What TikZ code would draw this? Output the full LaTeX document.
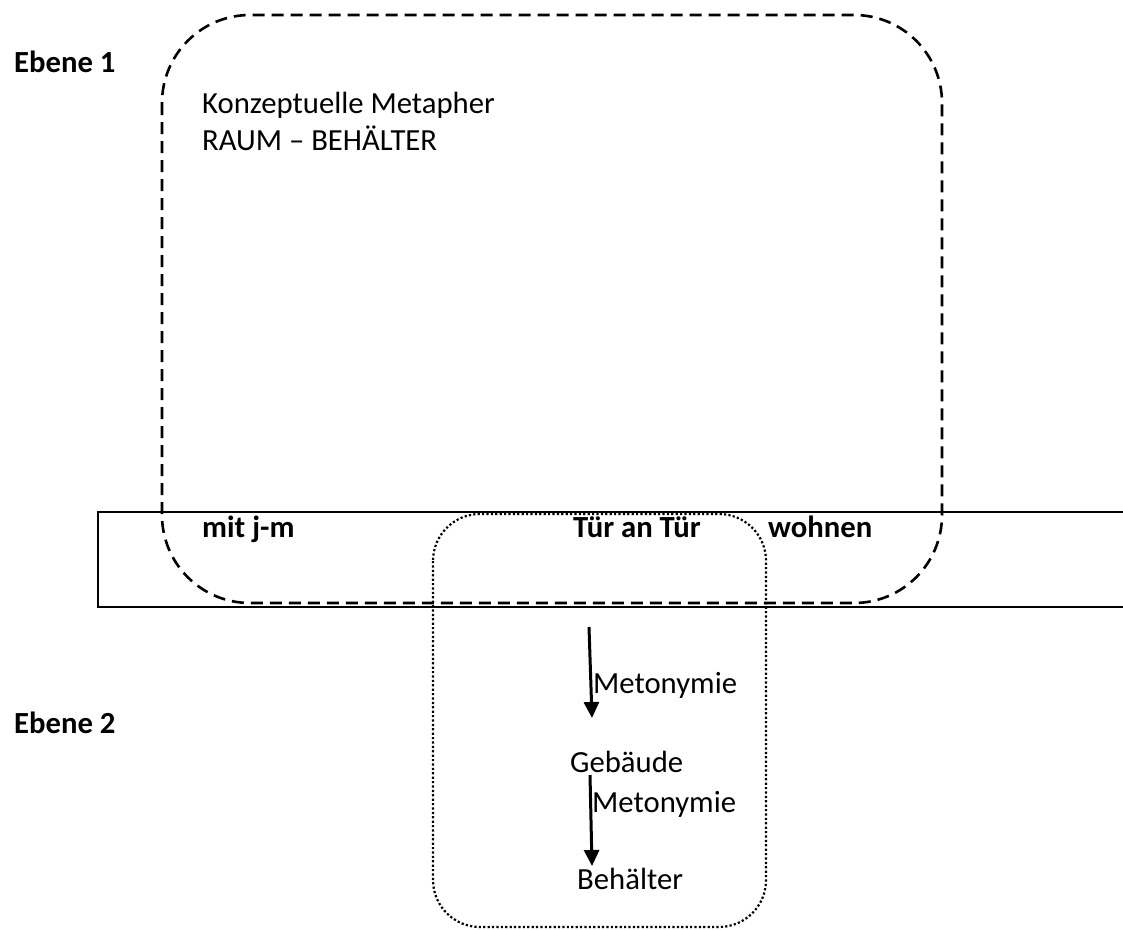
\documentclass[tikz,border=0pt]{standalone}
\usepackage{fontspec}
\setmainfont{Carlito}
\usetikzlibrary{arrows.meta}
\tikzset{
  lbl/.style={anchor=base west, inner sep=0pt, font=\fontsize{30.7}{37}\selectfont},
  blbl/.style={lbl, font=\fontsize{30.7}{37}\selectfont\bfseries},
  band/.style={line width=2pt, black},
  metabox/.style={line width=2.6pt, dash pattern=on 12pt off 7pt, rounded corners=88pt},
  metobox/.style={line width=2.2pt, dash pattern=on 2.2pt off 2.2pt, rounded corners=47pt},
  arr/.style={line width=3pt, -{Triangle[width=15pt,length=16pt]}}
}
\begin{document}
\begin{tikzpicture}[x=1pt,y=-1pt]
\useasboundingbox (0,0) rectangle (1123,929);
% band
\draw[band] (1123,512) -- (98,512) -- (98,607) -- (1123,607);
% boxes
\draw[metabox] (162,15) rectangle (942,603);
\draw[metobox] (433,514) rectangle (766,927);
% labels
\node[blbl] (e1) at (14,72) {Ebene 1};
\node[blbl] (e2) at (14,733) {Ebene 2};
\node[lbl] (k1) at (202,113) {Konzeptuelle Metapher};
\node[lbl] (k2) at (202,150) {RAUM – BEHÄLTER};
\node[blbl] (mit) at (202,537) {mit j-m};
\node[blbl] (tuer) at (573,537) {Tür an Tür};
\node[blbl] (wohn) at (768,537) {wohnen};
\node[lbl] (m1) at (593,693) {Metonymie};
\node[lbl] (geb) at (570,772) {Gebäude};
\node[lbl] (m2) at (592,812) {Metonymie};
\node[lbl] (beh) at (577,889) {Behälter};
% arrows
\coordinate (a1s) at (589,627);
\coordinate (a1e) at (592,718);
\coordinate (a2s) at (590,775);
\coordinate (a2e) at (592,866);
\draw[arr] (a1s) -- (a1e);
\draw[arr] (a2s) -- (a2e);
\end{tikzpicture}
\end{document}
